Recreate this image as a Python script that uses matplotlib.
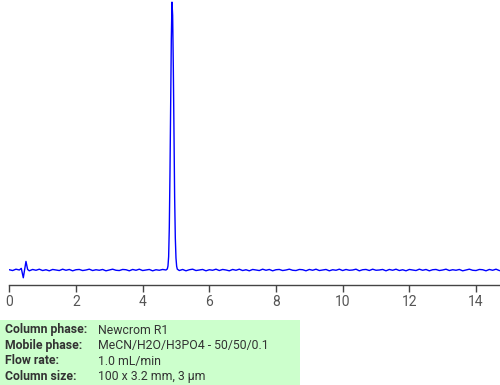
import matplotlib
matplotlib.use("Agg")
import matplotlib.pyplot as plt
from matplotlib.patches import Rectangle

# ---- data ----
start_t = [0.0, 0.1, 0.2, 0.3, 0.36, 0.42, 0.50, 0.55]
start_v = [0.1, -0.2, 0.3, 0.0, 0.6, -2.9, 3.2, 0.2]

base_a_start = 0.6
base_a = [-0.3, 0.2, -0.1, 0.3, -0.2, 0.1, -0.3, 0.2, 0.0, -0.2,
          0.3, -0.1, 0.2, -0.3, 0.1, 0.2, -0.2, 0.0, 0.3, -0.2,
          0.1, -0.1, 0.2, -0.3, 0.0, 0.3, -0.1, -0.2, 0.2, 0.1,
          -0.3, 0.2, -0.1, 0.3, -0.2, 0.0, 0.2, -0.3, 0.1, -0.1, 0.2]

peak_t = [4.70, 4.74, 4.76, 4.78, 4.80, 4.82, 4.84, 4.86, 4.88, 4.90,
          4.92, 4.94, 4.96, 4.98, 5.00, 5.02, 5.04]
peak_v = [0.0, 0.4, 1.5, 5.0, 16.0, 36.0, 62.0, 86.0, 100.0, 95.0,
          76.0, 50.0, 27.0, 12.0, 4.5, 1.4, 0.3]

base_b_start = 5.1
base_b = [-0.2, 0.2, -0.3, 0.1, 0.3, -0.2, 0.0, 0.2, -0.3, 0.1,
          -0.1, 0.3, -0.2, 0.2, 0.0, -0.3, 0.2, -0.1, 0.3, -0.2,
          0.1, -0.3, 0.2, 0.0, -0.2, 0.3, -0.1, 0.2, -0.3, 0.1,
          0.2, -0.2, 0.0, 0.3, -0.1, -0.2, 0.2, 0.1, -0.3, 0.2,
          -0.1, 0.3, -0.2, 0.0, 0.2, -0.3, 0.1, -0.1, 0.3, -0.2,
          0.2, -0.1, 0.0, 0.3, -0.3, 0.1, 0.2, -0.2, 0.3, -0.1,
          0.0, 0.2, -0.3, 0.2, -0.1, 0.3, -0.2, 0.1, -0.3, 0.2,
          0.0, -0.2, 0.3, -0.1, 0.2, -0.3, 0.1, 0.2, -0.2, 0.0,
          0.3, -0.2, 0.1, -0.1, 0.2, -0.3, 0.0, 0.3, -0.1, -0.2,
          0.2, 0.1, -0.3, 0.2, -0.1, 0.3, -0.2]

x_ticks = [0, 2, 4, 6, 8, 10, 12, 14]

info_labels = ["Column phase:", "Mobile phase:", "Flow rate:", "Column size:"]
info_values = ["Newcrom R1", "MeCN/H2O/H3PO4 - 50/50/0.1", "1.0 mL/min",
               "100 x 3.2 mm, 3 \u00b5m"]

# ---- assemble trace ----
t = list(start_t)
v = list(start_v)
t += [round(base_a_start + 0.1 * i, 3) for i in range(len(base_a))]
v += base_a
t += peak_t
v += peak_v
t += [round(base_b_start + 0.1 * i, 3) for i in range(len(base_b))]
v += base_b

plt.rcParams['font.family'] = ['Roboto', 'DejaVu Sans']

W, H = 500, 385
fig = plt.figure(figsize=(W / 100, H / 100), dpi=100)
ax = fig.add_axes([9.3 / W, 1 - 285 / H, (W - 9.3) / W, 285 / H])
ax.plot(t, v, color='#0000ff', linewidth=1.0)
ax.set_xlim(0, 14.72)
ax.set_ylim(-5.6, 100.8)
for s in ['top', 'right', 'left']:
    ax.spines[s].set_visible(False)
ax.spines['bottom'].set_color('#444444')
ax.spines['bottom'].set_linewidth(1.0)
ax.set_yticks([])
ax.set_xticks(x_ticks)
ax.set_xticklabels([str(x) for x in x_ticks])
ax.tick_params(axis='x', colors='#444444', length=5, width=1, labelsize=10,
               labelcolor='#555555', pad=2)

fig.patches.append(Rectangle((0, 0), 300 / W, 65 / H, transform=fig.transFigure,
                             facecolor='#ccffcc', edgecolor='none', zorder=0))
ys = [330, 345.5, 361, 376.5]
for lab, val, y in zip(info_labels, info_values, ys):
    fig.text(5 / W, 1 - y / H, lab, fontsize=8.8, fontweight='bold',
             color='#333333', va='center', ha='left')
    fig.text(98 / W, 1 - y / H, val, fontsize=8.8, color='#333333',
             va='center', ha='left')

fig.savefig('out.png', dpi=100)
